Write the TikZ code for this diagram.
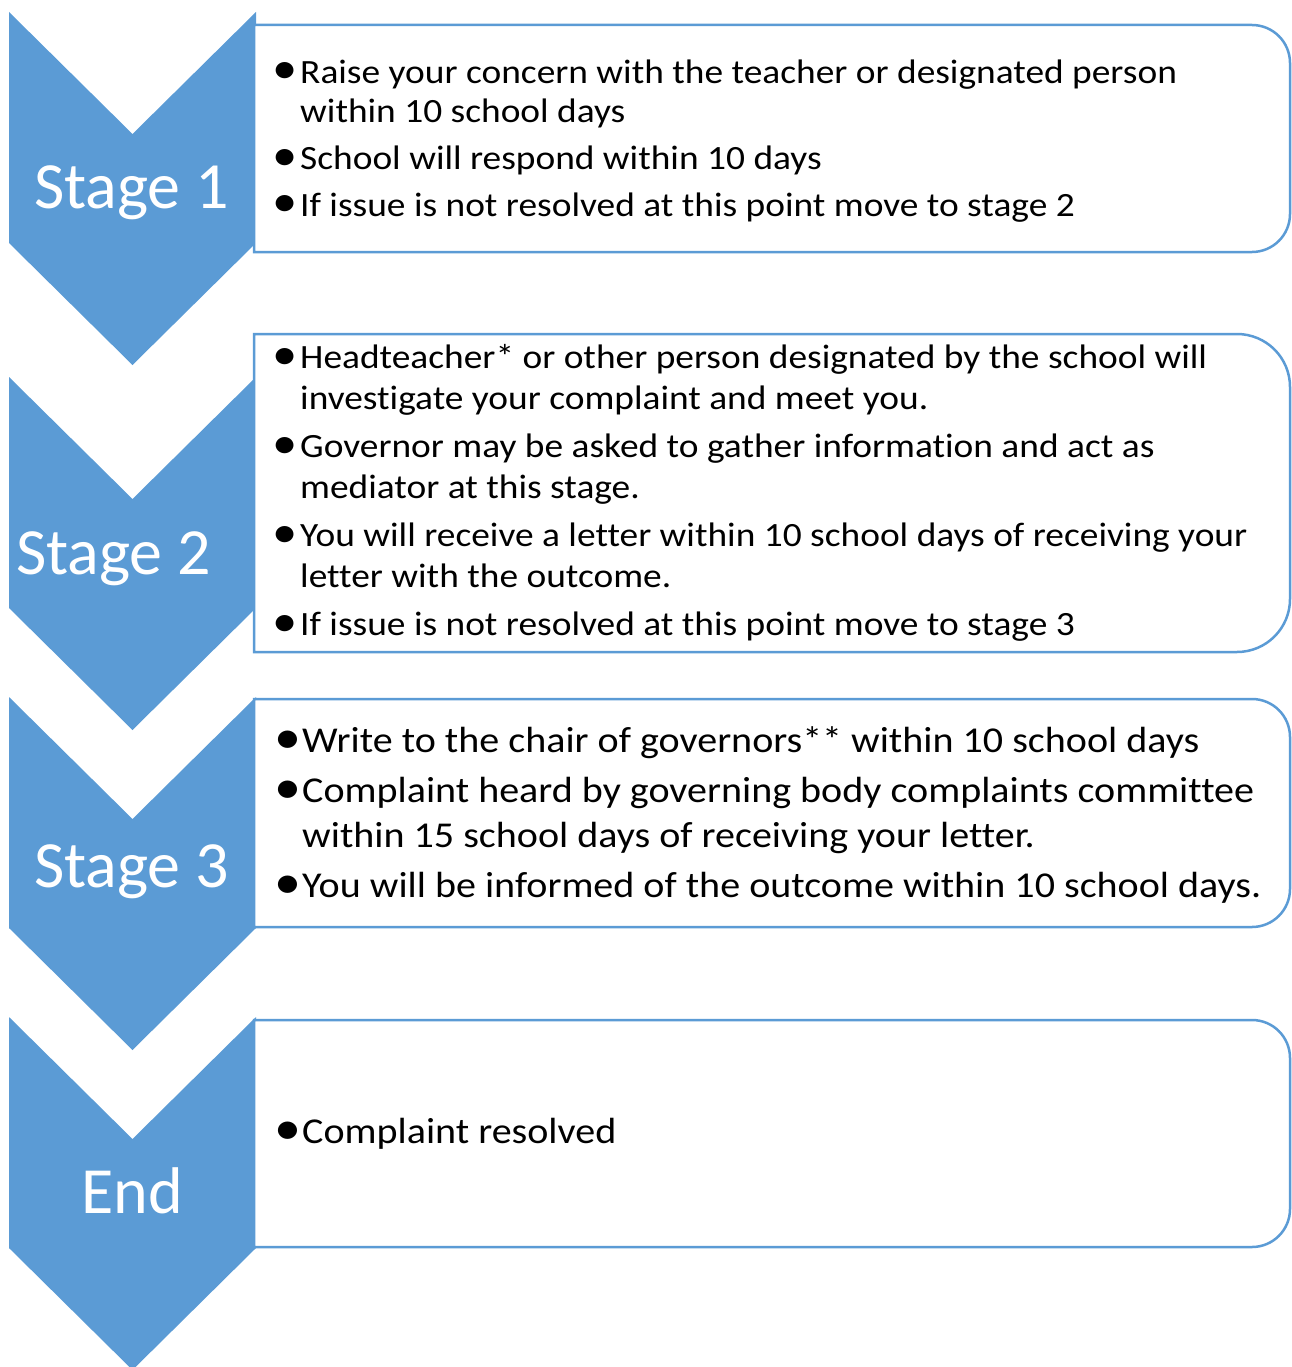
\documentclass[tikz,border=0pt]{standalone}
\usepackage{fontspec}
\setmainfont{Carlito}[Ligatures=CommonOff]
\newfontfamily\bodyfont{Carlito}[FakeStretch=1.1, Ligatures=CommonOff]
\usetikzlibrary{positioning}
\definecolor{chevronblue}{HTML}{5B9BD5}
\definecolor{boxblue}{HTML}{5B9BD5}

\newcommand{\bul}{\makebox[24pt][l]{\hspace*{-4pt}\raisebox{-1pt}{\scalebox{1.35}{\textbullet}}}}
\newcommand{\ind}{\hspace*{24pt}}
% box with the two right corners rounded: top, bottom, radius
\newcommand{\stagepanel}[3]{%
  \draw[stagebox] (254,-#1) -- ({1290-#3},-#1)
    arc[start angle=90, end angle=0, radius=#3pt] -- (1290,{-#2+#3})
    arc[start angle=0, end angle=-90, radius=#3pt] -- (254,-#2) -- cycle;}

\begin{document}
\begin{tikzpicture}[
    x=1pt, y=1pt,
    stagebox/.style={draw=boxblue, line width=2.5pt, fill=white},
    stagelabel/.style={text=white, font=\fontsize{66}{79}\selectfont, anchor=base, inner sep=0pt},
    items/.style={anchor=base west, align=left, inner sep=0pt, font=\bodyfont\fontsize{34}{39}\selectfont},
    itemstwo/.style={items, font=\bodyfont\fontsize{34}{41}\selectfont},
    bigitems/.style={items, font=\bodyfont\fontsize{36.4}{45}\selectfont}
]
\useasboundingbox (0,0) rectangle (1292,-1367);

% chevrons
\foreach \t in {12,377,697,1017}
  \fill[chevronblue] (9,-\t) -- (132.5,-\t-122) -- (256,-\t) -- (256,-\t-231)
    -- (132.5,-\t-353) -- (9,-\t-231) -- cycle;

% panels
\stagepanel{25}{252}{38}
\stagepanel{334}{652}{53}
\stagepanel{699}{927}{38}
\stagepanel{1020}{1247}{38}

% stage names
\node[stagelabel] (stageone) at (131.5,-208) {Stage 1};
\node[stagelabel] (stagetwo) at (113.5,-574) {Stage 2};
\node[stagelabel] (stagethree) at (131.5,-887) {Stage 3};
\node[stagelabel] (stageend) at (132,-1213) {End};

% bullet texts (anchored at the last line)
\node[items] (itemsone) at (276,-216) {\bul Raise your concern with the teacher or designated person\\
  \ind within 10 school days\\[8pt]
  \bul School will respond within 10 days\\[8pt]
  \bul If issue is not resolved at this point move to stage 2};
\node[itemstwo] (itemstwo) at (276,-635) {\bul Headteacher* or other person designated by the school will\\
  \ind investigate your complaint and meet you.\\[7pt]
  \bul Governor may be asked to gather information and act as\\
  \ind mediator at this stage.\\[7pt]
  \bul You will receive a letter within 10 school days of receiving your\\
  \ind letter with the outcome.\\[7pt]
  \bul If issue is not resolved at this point move to stage 3};
\node[bigitems] (itemsthree) at (278,-897) {\bul Write to the chair of governors** within 10 school days\\[5pt]
  \bul Complaint heard by governing body complaints committee\\
  \ind within 15 school days of receiving your letter.\\[5pt]
  \bul You will be informed of the outcome within 10 school days.};
\node[bigitems] (itemsend) at (278,-1143) {\bul Complaint resolved};
\end{tikzpicture}
\end{document}
